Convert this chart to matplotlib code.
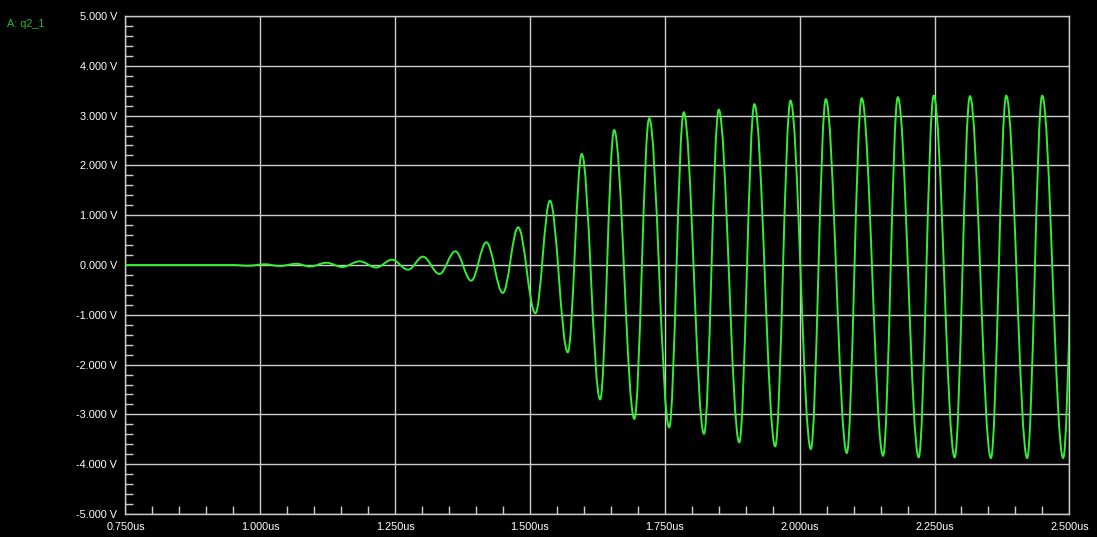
import matplotlib.pyplot as plt
from matplotlib.path import Path
from matplotlib.patches import PathPatch
from matplotlib.ticker import MultipleLocator, FuncFormatter

# extrema of the q2_1 waveform (time in us, volts)
t_ext = [0.75, 0.95, 0.977, 1.008, 1.036, 1.067, 1.092, 1.1226, 1.152, 1.184,
         1.215, 1.244, 1.274, 1.3015, 1.332, 1.3615, 1.391, 1.419, 1.4496, 1.478,
         1.51, 1.537, 1.570, 1.596, 1.630, 1.656, 1.6935, 1.721, 1.758, 1.785,
         1.8226, 1.850, 1.888, 1.916, 1.9546, 1.983, 2.0207, 2.0485, 2.0874, 2.115,
         2.1546, 2.182, 2.2207, 2.2485, 2.2874, 2.3157, 2.3546, 2.383, 2.4218, 2.4496,
         2.4885, 2.5165]
v_ext = [0.0, 0.0, -0.015, 0.015, -0.02, 0.025, -0.03, 0.045, -0.04, 0.074,
         -0.05, 0.107, -0.094, 0.167, -0.18, 0.275, -0.315, 0.456, -0.56, 0.757,
         -0.97, 1.29, -1.753, 2.229, -2.70, 2.71, -3.09, 2.946, -3.26, 3.066,
         -3.39, 3.12, -3.56, 3.23, -3.64, 3.30, -3.695, 3.33, -3.775, 3.35,
         -3.83, 3.367, -3.86, 3.40, -3.86, 3.39, -3.875, 3.40, -3.875, 3.40,
         -3.875, 3.40]

grid_col = '#cdcdcd'
wave_col = '#33ee33'

fig = plt.figure(figsize=(10.97, 5.37), dpi=100, facecolor='black')
ax = fig.add_axes([0.1144, 0.0428, 0.8604, 0.9274], facecolor='black')

# half cycles between extrema drawn as cubic beziers (horizontal at the peaks)
k = 0.3634
verts = [(t_ext[0], v_ext[0])]
codes = [Path.MOVETO]
for i in range(len(t_ext) - 1):
    t0, v0 = t_ext[i], v_ext[i]
    t1, v1 = t_ext[i + 1], v_ext[i + 1]
    dt = t1 - t0
    verts += [(t0 + k * dt, v0), (t1 - k * dt, v1), (t1, v1)]
    codes += [Path.CURVE4] * 3
wave = PathPatch(Path(verts, codes), facecolor='none', edgecolor=wave_col,
                 lw=1.4, zorder=3)
ax.add_patch(wave)

ax.set_xlim(0.75, 2.5)
ax.set_ylim(-5, 5)

ax.xaxis.set_major_locator(MultipleLocator(0.25))
ax.xaxis.set_minor_locator(MultipleLocator(0.05))
ax.yaxis.set_major_locator(MultipleLocator(1))
ax.yaxis.set_minor_locator(MultipleLocator(0.2))
ax.xaxis.set_major_formatter(FuncFormatter(lambda x, p: f'{x:.3f}us'))
ax.yaxis.set_major_formatter(FuncFormatter(lambda y, p: f'{y:.3f} V'))

ax.grid(True, which='major', color=grid_col, lw=1)
ax.set_axisbelow(True)
ax.tick_params(which='major', length=0, colors='white', labelsize=7.8)
ax.tick_params(axis='y', which='major', pad=6)
ax.tick_params(axis='x', which='major', pad=5.5)
ax.tick_params(which='minor', direction='in', length=6, width=1, color=grid_col)
for lab in ax.get_xticklabels() + ax.get_yticklabels():
    lab.set_fontfamily('Liberation Sans')

for s in ax.spines.values():
    s.set_color(grid_col)
    s.set_linewidth(1)

fig.text(0.0064, 0.955, 'A: q2_1', color='#22c022', fontsize=7.8,
         family='Liberation Sans', va='center')

fig.savefig('out.png', dpi=100, facecolor='black')
